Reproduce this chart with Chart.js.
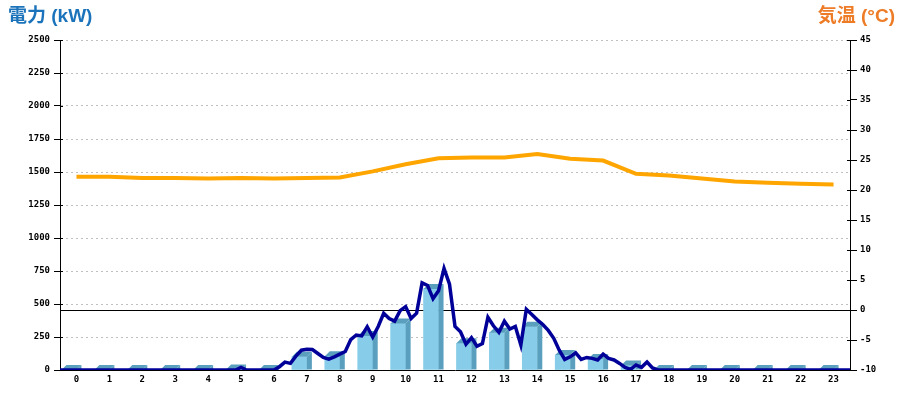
<!DOCTYPE html>
<html>
<head>
<meta charset="utf-8">
<script src="https://cdn.jsdelivr.net/npm/chart.js@4/dist/chart.umd.min.js"></script>
<style>
  body { margin: 0; background: #fff; }
  #wrap { position: relative; width: 900px; height: 400px; }
  .ttl { position: absolute; top: 4px; font-family: "Liberation Sans", "Noto Sans CJK JP", sans-serif; font-weight: bold; font-size: 19px; line-height: 24px; }
  #ttlLeft { left: 8px; color: #1b74bb; }
  #ttlRight { right: 5px; color: #ee7b26; }
</style>
</head>
<body>
<div id="wrap">
  <canvas id="powerChart" width="900" height="400"></canvas>
  <div class="ttl" id="ttlLeft">電力 (kW)</div>
  <div class="ttl" id="ttlRight">気温 (°C)</div>
</div>
<script>
// hourly categories
const hours = ['0','1','2','3','4','5','6','7','8','9','10','11','12','13','14','15','16','17','18','19','20','21','22','23'];

// hourly power bars (kW)
const hourlyPower = [0, 0, 0, 0, 0, 3, 0, 100, 105, 258, 353, 614, 202, 283, 328, 114, 83, 35, 0, 0, 0, 0, 0, 0];

// temperature per hour (C)
const temperature = [22.2, 22.2, 22.0, 22.0, 21.9, 22.0, 21.9, 22.0, 22.1, 23.1, 24.3, 25.3,
                     25.4, 25.4, 26.0, 25.2, 24.9, 22.7, 22.4, 21.9, 21.4, 21.2, 21.05, 20.9];

// power every 10 minutes, 00:00 .. 24:00 (kW)
const powerValues = [
  0, 0, 0, 0, 0, 0,          // 0h
  0, 0, 0, 0, 0, 0,          // 1h
  0, 0, 0, 0, 0, 0,          // 2h
  0, 0, 0, 0, 0, 0,          // 3h
  0, 0, 0, 0, 0, 0,          // 4h
  0, 0, 0, 20, 0, 0,         // 5h
  0, 0, 0, 0, 25, 60,        // 6h
  50, 105, 150, 157, 155, 125, // 7h
  96, 82, 100, 120, 140, 230,  // 8h
  265, 258, 328, 250, 330, 430, // 9h
  390, 370, 450, 480, 390, 430, // 10h
  660, 640, 540, 600, 770, 650, // 11h
  330, 290, 195, 245, 180, 200, // 12h
  400, 335, 285, 370, 310, 330, // 13h
  190, 460, 420, 380, 345, 300, // 14h
  240, 150, 80, 100, 130, 80,   // 15h
  95, 88, 76, 120, 88, 76,      // 16h
  50, 20, 5, 38, 20, 60,        // 17h
  15, 0, 0, 0, 0, 0,            // 18h
  0, 0, 0, 0, 0, 0,             // 19h
  0, 0, 0, 0, 0, 0,             // 20h
  0, 0, 0, 0, 0, 0,             // 21h
  0, 0, 0, 0, 0, 0,             // 22h
  0, 0, 0, 0, 0, 0,             // 23h
  0
];

const powerMax = 2500, powerStep = 250;
const tempMin = -10, tempMax = 45, tempStep = 5;

const tickFont = { family: 'DejaVu Sans Mono', size: 9, weight: 'bold' };

// draws top and side faces so the bars look 3D
const bar3d = {
  id: 'bar3d',
  afterDatasetDraw(chart, args) {
    if (args.index !== 0) return;
    var ctx = chart.ctx;
    var d = 5;
    ctx.save();
    ctx.fillStyle = '#5a9fbe';
    args.meta.data.forEach(function(bar) {
      var p = bar.getProps(['x', 'y', 'base', 'width'], true);
      var l = p.x - p.width / 2, r = p.x + p.width / 2;
      ctx.beginPath();
      ctx.moveTo(l, p.y);
      ctx.lineTo(r, p.y);
      ctx.lineTo(r + d, p.y - d);
      ctx.lineTo(l + d, p.y - d);
      ctx.closePath();
      ctx.fill();
      ctx.beginPath();
      ctx.moveTo(r, p.y);
      ctx.lineTo(r + d, p.y - d);
      ctx.lineTo(r + d, p.base);
      ctx.lineTo(r, p.base);
      ctx.closePath();
      ctx.fill();
    });
    ctx.restore();
  }
};

// small tick stubs that poke into the plot area
const innerTicks = {
  id: 'innerTicks',
  afterDraw(chart) {
    var ctx = chart.ctx;
    ctx.save();
    ctx.strokeStyle = '#000';
    ctx.lineWidth = 1;
    [['y', 1], ['y2', -1]].forEach(function(s) {
      var sc = chart.scales[s[0]];
      var x0 = s[1] > 0 ? sc.right : sc.left;
      sc.ticks.forEach(function(t) {
        var y = Math.round(sc.getPixelForValue(t.value)) + 0.5;
        ctx.beginPath();
        ctx.moveTo(x0, y);
        ctx.lineTo(x0 + 3 * s[1], y);
        ctx.stroke();
      });
    });
    ctx.restore();
  }
};

new Chart(document.getElementById('powerChart').getContext('2d'), {
  type: 'bar',
  data: {
    labels: hours,
    datasets: [{
      label: 'hourly',
      data: hourlyPower,
      backgroundColor: '#87cde9',
      barThickness: 15,
      yAxisID: 'y',
      order: 3
    }, {
      type: 'line',
      label: 'temp',
      data: temperature,
      borderColor: '#ffa500',
      borderWidth: 4,
      pointRadius: 0,
      tension: 0,
      yAxisID: 'y2',
      order: 2
    }, {
      type: 'line',
      label: 'power',
      data: powerValues.map((v, i) => ({ x: i / 6, y: v })),
      borderColor: '#000099',
      borderWidth: 3.5,
      pointRadius: 0,
      tension: 0,
      xAxisID: 'xTime',
      yAxisID: 'y',
      order: 1
    }]
  },
  options: {
    responsive: false,
    animation: false,
    layout: { padding: { top: 40 } },
    plugins: { legend: { display: false }, tooltip: { enabled: false } },
    scales: {
      x: {
        grid: { display: false, drawTicks: false },
        border: { display: true, color: '#000' },
        ticks: { font: tickFont, color: '#000', padding: 4, maxRotation: 0 },
        afterFit: s => { s.height = 30; }
      },
      xTime: {
        type: 'linear',
        display: false,
        min: 0,
        max: 24,
        offset: false
      },
      y: {
        position: 'left',
        min: 0,
        max: powerMax,
        ticks: { stepSize: powerStep, font: tickFont, color: '#000', padding: 4, callback: v => String(v) },
        grid: { color: '#c0c0c0', tickColor: '#000', tickLength: 6 },
        border: { color: '#000', dash: [2, 3] },
        afterFit: s => { s.width = 60; }
      },
      y2: {
        position: 'right',
        min: tempMin,
        max: tempMax,
        ticks: { stepSize: tempStep, font: tickFont, color: '#000', padding: 3, callback: v => String(v) },
        grid: {
          color: c => (c.tick && c.tick.value === 0) ? '#000' : 'rgba(0,0,0,0)',
          tickColor: '#000',
          tickLength: 7
        },
        border: { color: '#000' },
        afterFit: s => { s.width = 50; }
      }
    }
  },
  plugins: [bar3d, innerTicks]
});
</script>
</body>
</html>
